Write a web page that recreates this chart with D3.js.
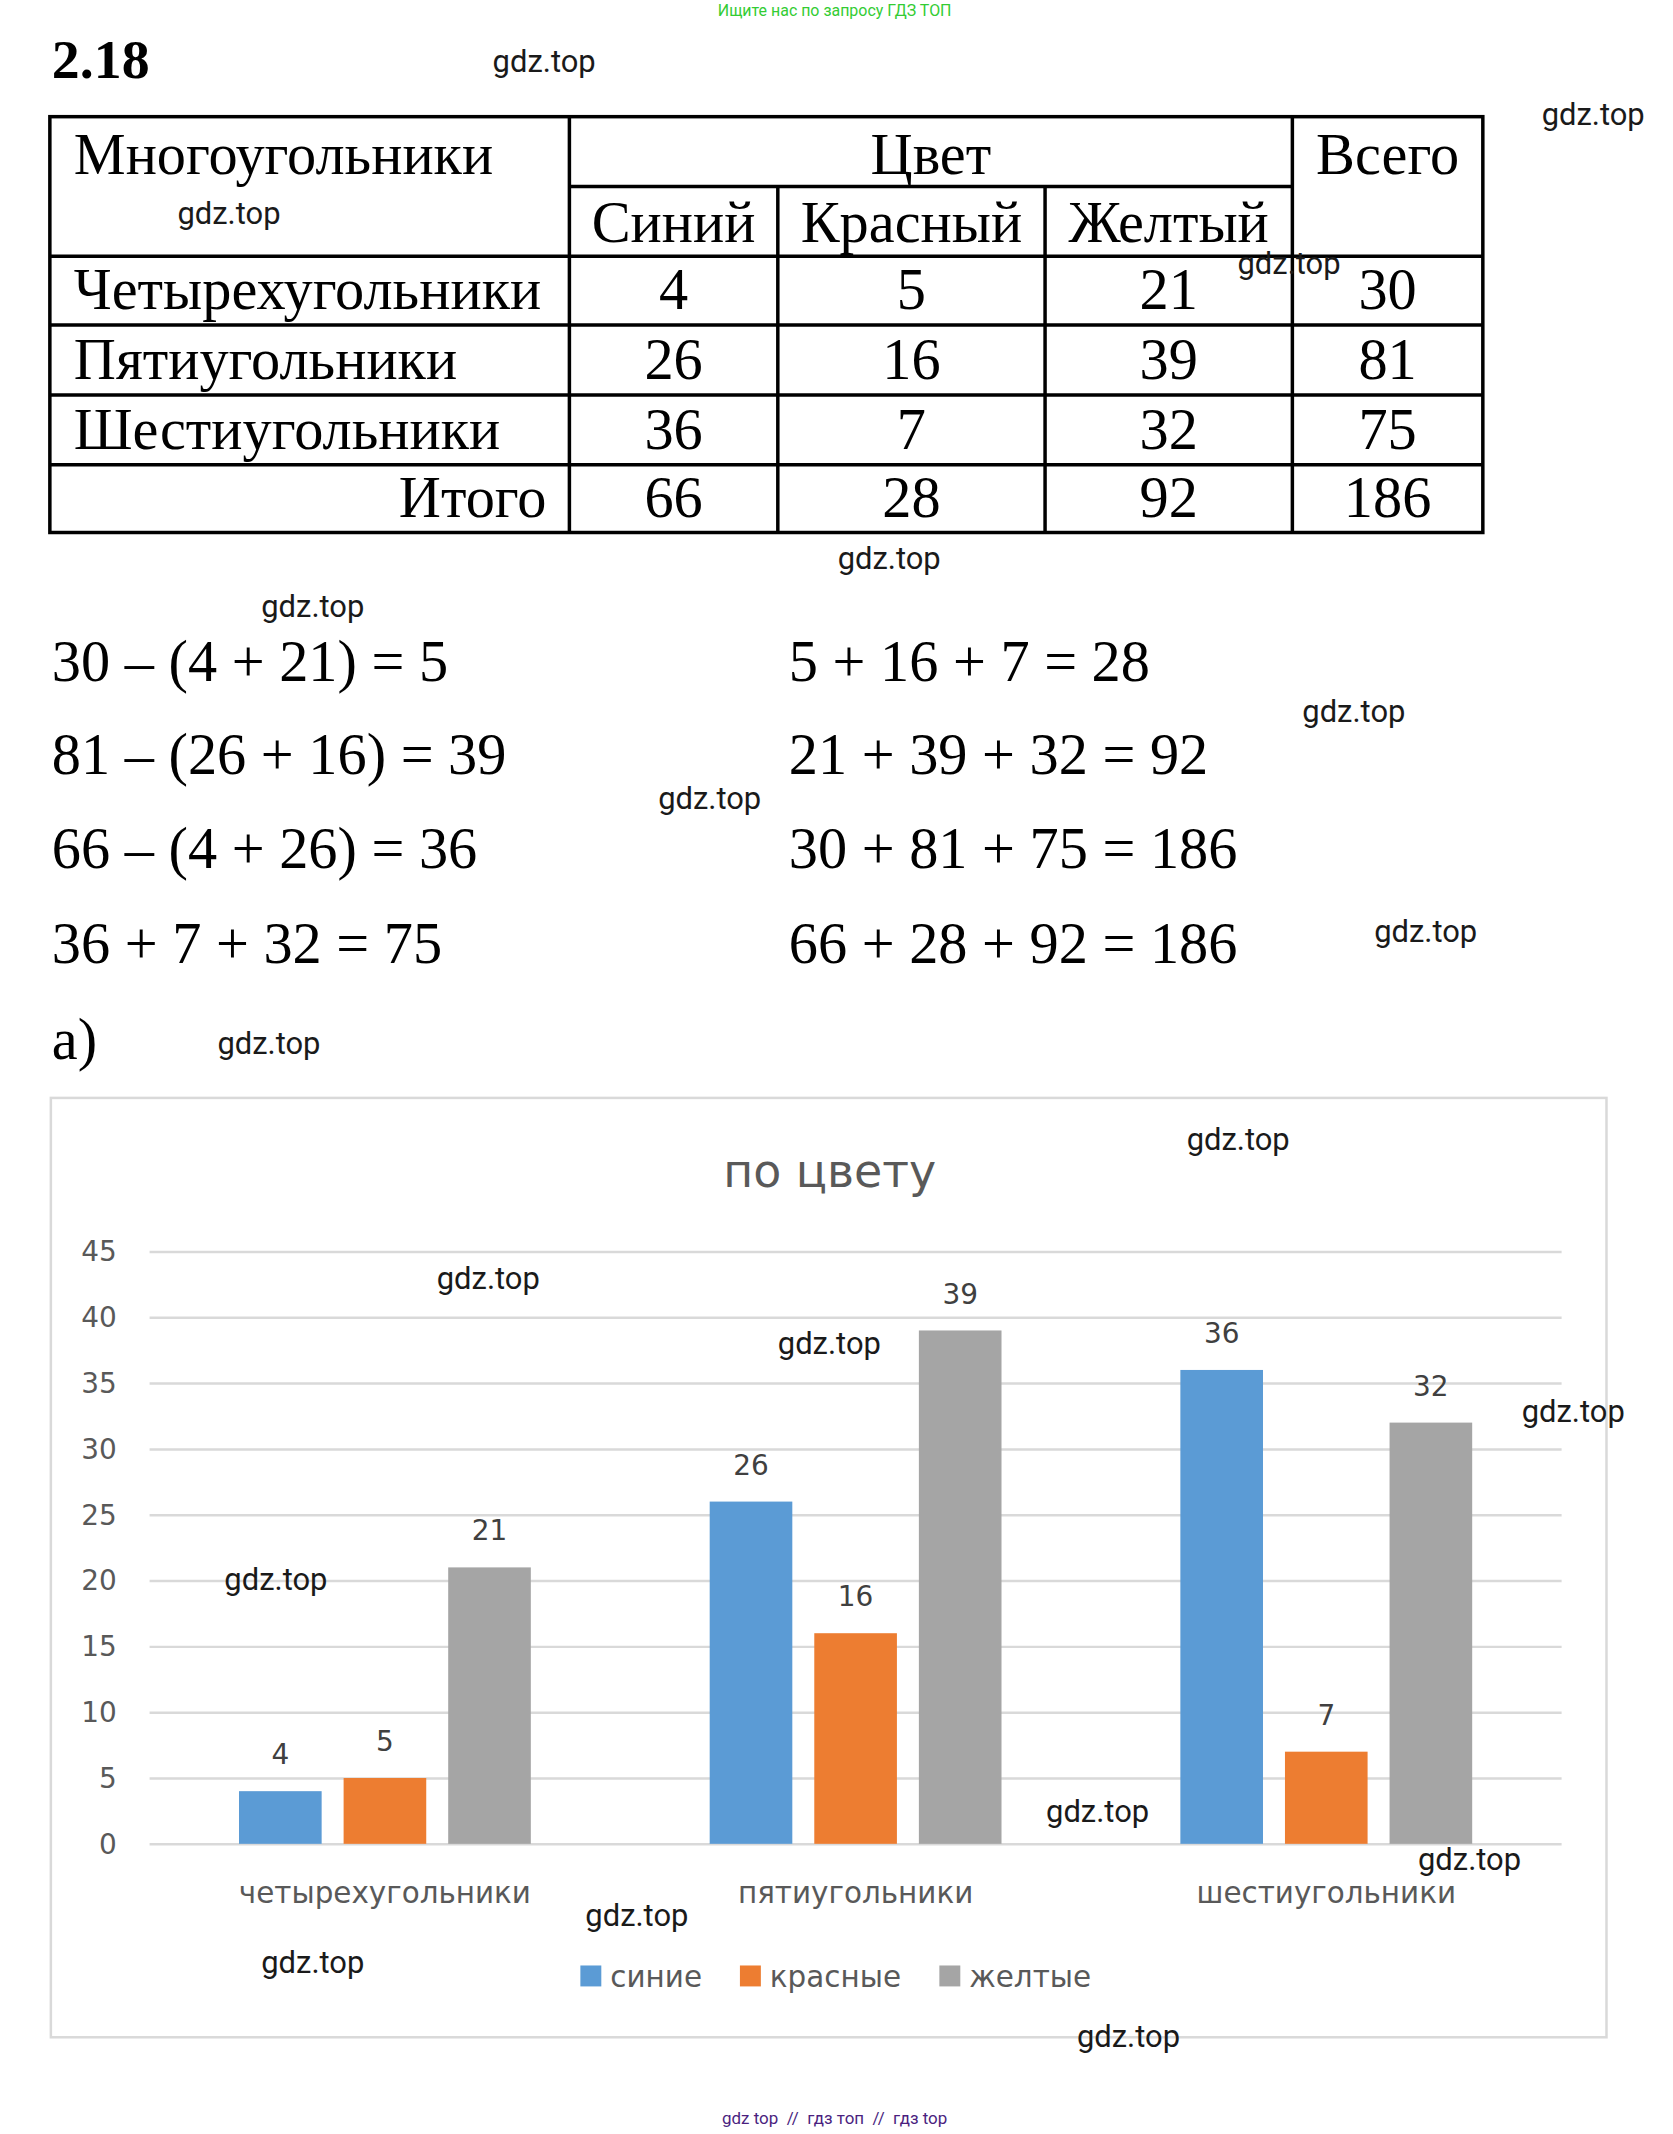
<!DOCTYPE html>
<html>
<head>
<meta charset="utf-8">
<script src="https://cdn.jsdelivr.net/npm/d3@7"></script>
<style>
  body { margin: 0; background: #fff; }
</style>
</head>
<body>
<div id="page"></div>
<script>
// ---- data ----
var shapes = ["Четырехугольники", "Пятиугольники", "Шестиугольники"];
var colorHeads = ["Синий", "Красный", "Желтый"];
var blue = [4, 26, 36];
var red = [5, 16, 7];
var yellow = [21, 39, 32];
var rowTotals = [30, 81, 75];
var colTotals = [66, 28, 92];
var grandTotal = 186;

var leftEqs = ["30 – (4 + 21) = 5", "81 – (26 + 16) = 39", "66 – (4 + 26) = 36", "36 + 7 + 32 = 75"];
var rightEqs = ["5 + 16 + 7 = 28", "21 + 39 + 32 = 92", "30 + 81 + 75 = 186", "66 + 28 + 92 = 186"];

var chartTitle = "по цвету";
var chartCats = ["четырехугольники", "пятиугольники", "шестиугольники"];
var seriesNames = ["синие", "красные", "желтые"];
var seriesColors = ["#5b9bd5", "#ed7d31", "#a5a5a5"];
var yTicks = [0, 5, 10, 15, 20, 25, 30, 35, 40, 45];

// watermark spots (left x, middle y)
var marks = [[494, 61], [1546, 115], [178, 214], [1241, 264], [840, 560], [262, 608],
             [1306, 713], [660, 800], [1378, 934], [218, 1046], [1190, 1142], [438, 1282],
             [780, 1347], [1526, 1415], [225, 1584], [1049, 1816], [1422, 1864], [587, 1921],
             [262, 1968], [1080, 2042]];

(function() {
    var W = 1673, H = 2134;
    var root = d3.select("#page").append("svg")
        .attr("width", W).attr("height", H);
    root.append("rect").attr("width", W).attr("height", H).attr("fill", "#fff");
    // small global correction of the page scale
    var svg = root.append("g").attr("transform", "scale(0.9972)");

    var serif = "'Liberation Serif', 'Times New Roman', serif";
    var sans = "'DejaVu Sans', Verdana, sans-serif";

    svg.append("text").attr("x", 837).attr("y", 16)
        .attr("text-anchor", "middle").attr("font-family", "Roboto, sans-serif")
        .attr("font-size", 16).attr("fill", "#33cc33")
        .text("Ищите нас по запросу ГДЗ ТОП");

    svg.append("text").attr("x", 52).attr("y", 78)
        .attr("font-family", serif).attr("font-weight", "bold")
        .attr("font-size", 56).attr("fill", "#000").text("2.18");

    // ---- table ----
    var cx = [50, 571, 780, 1048, 1296, 1487];
    var ry = [117, 187, 257, 326, 396, 466, 534];
    var tfs = 58.5;
    var tbl = svg.append("g").attr("stroke", "#000").attr("stroke-width", 3.5);
    tbl.append("rect").attr("x", cx[0]).attr("y", ry[0])
        .attr("width", cx[5] - cx[0]).attr("height", ry[6] - ry[0]).attr("fill", "none");
    [1, 4].forEach(function(i) {
        tbl.append("line").attr("x1", cx[i]).attr("x2", cx[i]).attr("y1", ry[0]).attr("y2", ry[6]);
    });
    [2, 3].forEach(function(i) {
        tbl.append("line").attr("x1", cx[i]).attr("x2", cx[i]).attr("y1", ry[1]).attr("y2", ry[6]);
    });
    tbl.append("line").attr("x1", cx[1]).attr("x2", cx[4]).attr("y1", ry[1]).attr("y2", ry[1]);
    [2, 3, 4, 5].forEach(function(i) {
        tbl.append("line").attr("x1", cx[0]).attr("x2", cx[5]).attr("y1", ry[i]).attr("y2", ry[i]);
    });

    var tt = svg.append("g").attr("font-family", serif).attr("font-size", tfs).attr("fill", "#000");
    function mid(a, b) { return (a + b) / 2; }
    tt.append("text").attr("x", 74).attr("y", 174).text("Многоугольники");
    tt.append("text").attr("x", mid(cx[1], cx[4])).attr("y", 174).attr("text-anchor", "middle").text("Цвет");
    tt.append("text").attr("x", mid(cx[4], cx[5])).attr("y", 174).attr("text-anchor", "middle").text("Всего");
    colorHeads.forEach(function(h, i) {
        tt.append("text").attr("x", mid(cx[i + 1], cx[i + 2])).attr("y", 243)
            .attr("text-anchor", "middle").text(h);
    });
    var rows = shapes.map(function(s, i) {
        return [s, blue[i], red[i], yellow[i], rowTotals[i]];
    });
    rows.push(["Итого", colTotals[0], colTotals[1], colTotals[2], grandTotal]);
    rows.forEach(function(r, i) {
        var y = ry[i + 3] - 16;
        if (i < 3) {
            tt.append("text").attr("x", 74).attr("y", y).text(r[0]);
        } else {
            tt.append("text").attr("x", 548).attr("y", y).attr("text-anchor", "end").text(r[0]);
        }
        for (var j = 1; j < 5; j++) {
            tt.append("text").attr("x", mid(cx[j], cx[j + 1])).attr("y", y)
                .attr("text-anchor", "middle").text(r[j]);
        }
    });

    // ---- equations ----
    var eqY = [683, 776, 870, 966];
    var eq = svg.append("g").attr("font-family", serif).attr("font-size", 58.5).attr("fill", "#000");
    leftEqs.forEach(function(e, i) {
        eq.append("text").attr("x", 52).attr("y", eqY[i]).text(e);
    });
    rightEqs.forEach(function(e, i) {
        eq.append("text").attr("x", 791).attr("y", eqY[i]).text(e);
    });
    eq.append("text").attr("x", 52).attr("y", 1062).text("а)");

    // ---- chart ----
    svg.append("rect").attr("x", 51).attr("y", 1101).attr("width", 1560).attr("height", 942)
        .attr("fill", "#fff").attr("stroke", "#d9d9d9").attr("stroke-width", 2.5);

    svg.append("text").attr("x", 832).attr("y", 1190).attr("text-anchor", "middle")
        .attr("font-family", sans).attr("font-size", 46).attr("fill", "#595959")
        .text(chartTitle);

    var left = 150, right = 1566, top = 1255, bottom = 1849;
    var y = d3.scaleLinear().domain([0, 45]).range([bottom, top]);
    var x0 = d3.scaleBand().domain(chartCats).range([left, right]).padding(0);
    var gw = x0.bandwidth() * 0.62;
    var x1 = d3.scaleBand().domain(seriesNames)
        .range([(x0.bandwidth() - gw) / 2, (x0.bandwidth() + gw) / 2])
        .paddingInner(0.21).paddingOuter(0);

    var grid = svg.append("g")
        .attr("transform", "translate(" + left + ",0)")
        .call(d3.axisLeft(y).tickValues(yTicks).tickSize(-(right - left)).tickFormat(""));
    grid.select(".domain").remove();
    grid.selectAll(".tick line").attr("stroke", "#d9d9d9").attr("stroke-width", 2.5);

    var yl = svg.append("g").attr("font-family", sans).attr("font-size", 28).attr("fill", "#595959");
    yTicks.forEach(function(t) {
        yl.append("text").attr("x", 117).attr("y", y(t)).attr("dy", "0.35em")
            .attr("text-anchor", "end").text(t);
    });

    var series = [blue, red, yellow];
    var bars = svg.append("g");
    chartCats.forEach(function(c, i) {
        var g = bars.append("g").attr("transform", "translate(" + x0(c) + ",0)");
        series.forEach(function(s, k) {
            var bx = x1(seriesNames[k]);
            g.append("rect").attr("x", bx).attr("y", y(s[i]))
                .attr("width", x1.bandwidth()).attr("height", y(0) - y(s[i]))
                .attr("fill", seriesColors[k]);
            g.append("text").attr("x", bx + x1.bandwidth() / 2).attr("y", y(s[i]) - 27)
                .attr("text-anchor", "middle").attr("font-family", sans)
                .attr("font-size", 28).attr("fill", "#404040").text(s[i]);
        });
        svg.append("text").attr("x", x0(c) + x0.bandwidth() / 2).attr("y", 1908)
            .attr("text-anchor", "middle").attr("font-family", sans)
            .attr("font-size", 29.5).attr("fill", "#595959").text(c);
    });

    // legend
    var legX = [582, 742, 942];
    var leg = svg.append("g").attr("font-family", sans).attr("font-size", 29.5).attr("fill", "#595959");
    seriesNames.forEach(function(n, k) {
        leg.append("rect").attr("x", legX[k]).attr("y", 1971).attr("width", 21).attr("height", 21)
            .attr("fill", seriesColors[k]);
        leg.append("text").attr("x", legX[k] + 30).attr("y", 1982).attr("dy", "0.35em").text(n);
    });

    // watermarks
    var wm = svg.append("g").attr("font-family", "Roboto, sans-serif").attr("font-size", 31).attr("fill", "#1a1a1a");
    marks.forEach(function(m) {
        wm.append("text").attr("x", m[0]).attr("y", m[1]).attr("dy", "0.35em").text("gdz.top");
    });

    svg.append("text").attr("x", 837).attr("y", 2130).attr("text-anchor", "middle")
        .attr("font-family", "Roboto, sans-serif").attr("font-size", 17).attr("fill", "#4b1f7f")
        .attr("xml:space", "preserve")
        .text("gdz top  //  гдз топ  //  гдз top");
})();
</script>
</body>
</html>
